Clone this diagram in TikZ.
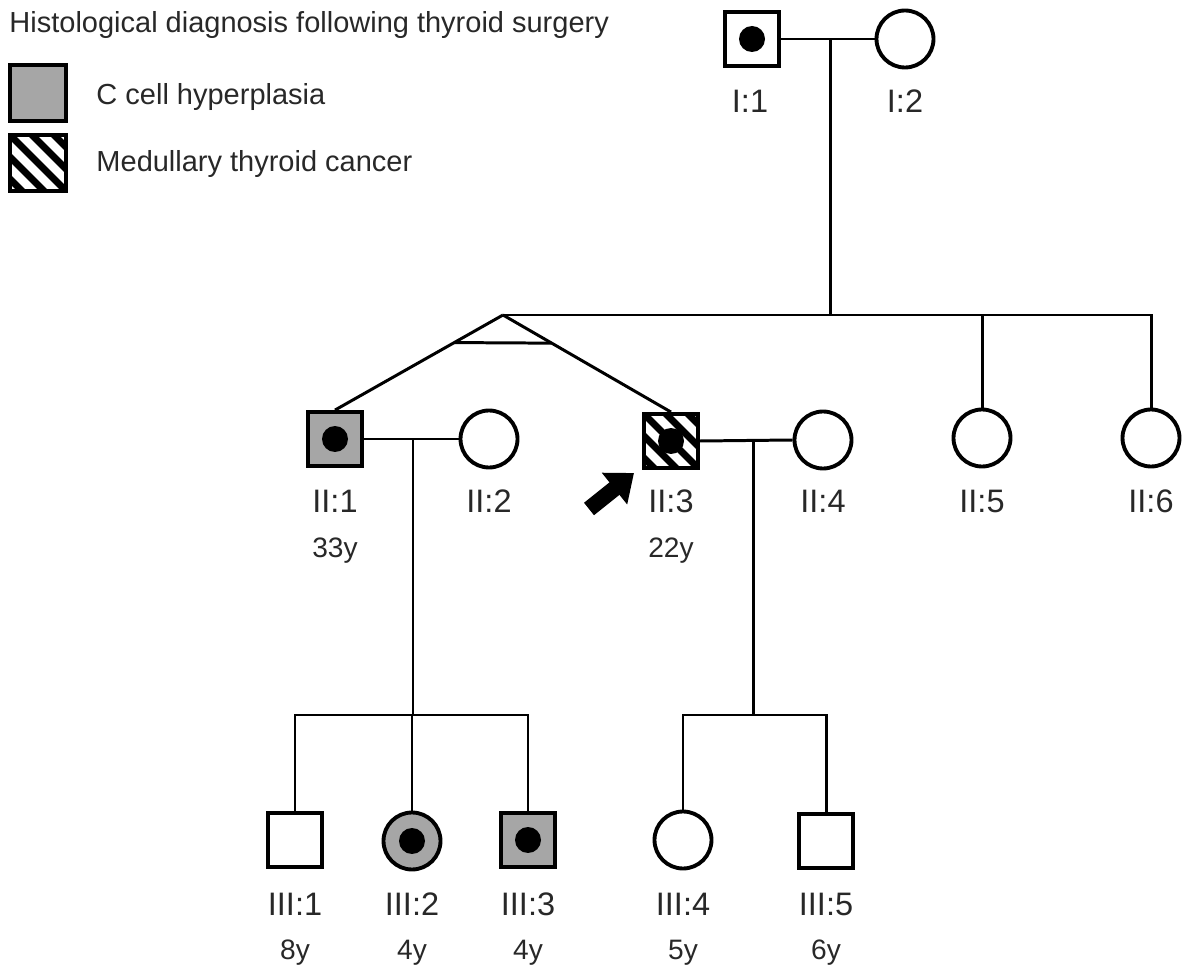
\documentclass[tikz,border=0pt]{standalone}
\usepackage{fontspec}
\setmainfont{Liberation Sans}
\usetikzlibrary{calc,arrows.meta}
\definecolor{affgray}{RGB}{166,166,166}
\definecolor{txt}{RGB}{40,40,40}
\begin{document}
\begin{tikzpicture}[x=0.02cm,y=-0.02cm,
  line width=1.7pt,
  male/.style={rectangle,draw,line width=2.2pt,minimum size=1.08cm,inner sep=0pt,fill=white},
  female/.style={circle,draw,line width=2.2pt,minimum size=1.14cm,inner sep=0pt,fill=white},
  aff/.style={fill=affgray},
  hatch/.style={path picture={
      \foreach \i in {-1.76,-1.32,...,1.8}
        \draw[line width=4pt] ([xshift=\i cm-1cm,yshift=1cm]path picture bounding box.center) -- ([xshift=\i cm+1cm,yshift=-1cm]path picture bounding box.center);}},
  dot/.style={circle,fill=black,draw=none,minimum size=0.52cm,inner sep=0pt},
  lab/.style={text=txt,font=\fontsize{18.5}{20}\selectfont,inner sep=0pt},
  age/.style={text=txt,font=\fontsize{16}{18}\selectfont,inner sep=0pt},
  leg/.style={text=txt,font=\fontsize{16.5}{18}\selectfont,inner sep=0pt,anchor=west}]
\useasboundingbox (0,0) rectangle (1184,969);

% legend
\node[leg] (title) at (8,25) {Histological diagnosis following thyroid surgery};
\node[male,aff,minimum size=1.12cm] (L1) at (38,93) {};
\node[leg] (L1t) at (95,97) {C cell hyperplasia};
\node[male,hatch,minimum size=1.12cm] (L2) at (38,163) {};
\node[leg] (L2t) at (95,164) {Medullary thyroid cancer};

% generation I
\node[male] (I1) at (752,39) {};
\node[dot] (I1d) at (I1) {};
\node[female] (I2) at (905,39) {};
\node[lab] (I1l) at (750,101) {I:1};
\node[lab] (I2l) at (905,101) {I:2};

% generation II
\node[male,aff] (II1) at (335,439) {};
\node[dot] (II1d) at (II1) {};
\node[female] (II2) at (489,439) {};
\node[male,hatch] (II3) at (671,441) {};
\node[dot] (II3d) at (II3) {};
\node[female] (II4) at (823,440) {};
\node[female] (II5) at (982,438) {};
\node[female] (II6) at (1151,438) {};
\node[lab] (II1l) at (335,501) {II:1};
\node[lab] (II2l) at (489,501) {II:2};
\node[lab] (II3l) at (671,501) {II:3};
\node[lab] (II4l) at (823,501) {II:4};
\node[lab] (II5l) at (982,501) {II:5};
\node[lab] (II6l) at (1151,501) {II:6};
\node[age] (II1a) at (335,551) {33y};
\node[age] (II3a) at (671,551) {22y};

% generation III
\node[male] (III1) at (295,840) {};
\node[female,aff] (III2) at (412,841) {};
\node[dot] (III2d) at (III2) {};
\node[male,aff] (III3) at (528,840) {};
\node[dot] (III3d) at (III3) {};
\node[female] (III4) at (683,840) {};
\node[male] (III5) at (826,841) {};
\node[lab] (III1l) at (295,904) {III:1};
\node[lab] (III2l) at (412,904) {III:2};
\node[lab] (III3l) at (528,904) {III:3};
\node[lab] (III4l) at (683,904) {III:4};
\node[lab] (III5l) at (826,904) {III:5};
\node[age] (III1a) at (295,953) {8y};
\node[age] (III2a) at (412,953) {4y};
\node[age] (III3a) at (528,953) {4y};
\node[age] (III4a) at (683,953) {5y};
\node[age] (III5a) at (826,953) {6y};

% connectors
\coordinate (m1) at (830,39);
\coordinate (tw) at (503,315);
\draw (I1.east) -- (I2.west);
\draw (m1) -- (m1 |- tw);
\draw (tw) -| (II6.north);
\draw (II5.north) -- (II5.north |- tw);
\draw (tw) -- (II1.north);
\draw (tw) -- (II3.north);
\draw ($(tw)!0.29!(II1.north)$) -- ($(tw)!0.29!(II3.north)$);

\coordinate (m2) at (413,439);
\coordinate (s2) at (413,715);
\draw (II1.east) -- (II2.west);
\draw (m2) -- (s2);
\draw (III1.north) |- (s2) -| (III3.north);
\draw (III2.north) -- (III2.north |- s2);

\coordinate (m3) at (753,440);
\coordinate (s3) at (753,715);
\draw (II3.east) -- (II4.west);
\draw (m3) -- (s3);
\draw (III4.north) |- (s3) -| (III5.north);

% proband arrow
\coordinate (arT) at (589,509);
\coordinate (arH) at (634,473);
\draw[line width=0.32cm,-{Triangle[length=0.5cm,width=0.78cm]}] (arT) -- (arH);
\end{tikzpicture}
\end{document}
